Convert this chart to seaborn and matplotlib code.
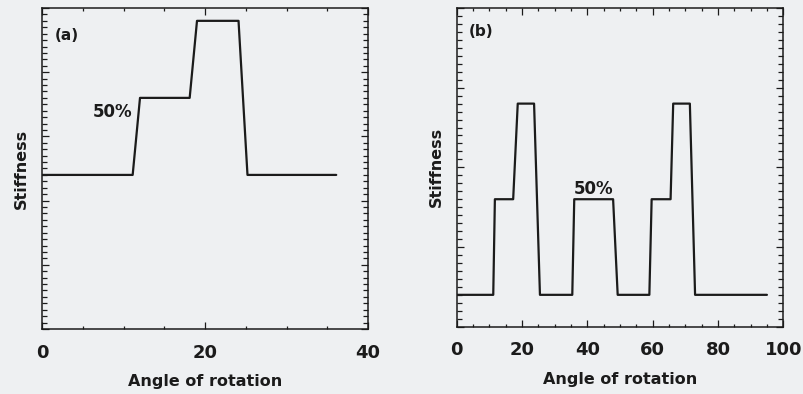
import matplotlib
matplotlib.use("Agg")
import matplotlib.pyplot as plt
import seaborn as sns
import pandas as pd
from matplotlib.ticker import MultipleLocator, NullFormatter

# Stiffness profile for a single stiffened sector, panel (a)
angle_a = [0, 11.1, 12.0, 18.1, 19.0, 24.1, 25.2, 36.1]
stiffness_a = [2.4, 2.4, 3.6, 3.6, 4.8, 4.8, 2.4, 2.4]

# Stiffness profile with three stiffened sectors, panel (b)
angle_b = [0, 11.2, 11.7, 17.3, 18.7, 23.7, 25.5, 35.4, 36.0, 47.9,
           49.3, 59.0, 59.7, 65.5, 66.3, 71.4, 73.0, 95.0]
stiffness_b = [0.4, 0.4, 1.6, 1.6, 2.8, 2.8, 0.4, 0.4, 1.6, 1.6,
               0.4, 0.4, 1.6, 1.6, 2.8, 2.8, 0.4, 0.4]

panel_labels = ["(a)", "(b)"]
step_label = "50%"
x_label = "Angle of rotation"
y_label = "Stiffness"

sns.set_theme(style="ticks")
plt.rcParams["font.family"] = ["DejaVu Sans"]
plt.rcParams["font.weight"] = "bold"

bg = "#eef0f2"
ink = "#1b1b1b"

fig = plt.figure(figsize=(8.04, 3.94), dpi=100, facecolor=bg)
ax_a = fig.add_axes([0.0526, 0.165, 0.4051, 0.8147])
ax_b = fig.add_axes([0.568, 0.1708, 0.4062, 0.8089])

panels = [
    (ax_a, angle_a, stiffness_a, (0, 40), (0, 5), 20, (1.56, 4.57), (8.66, 3.38)),
    (ax_b, angle_b, stiffness_b, (0, 100), (0, 4), 20, (3.55, 3.70), (42.0, 1.73)),
]

for i, (ax, xs, ys, xlim, ylim, xmajor, lab_pos, pct_pos) in enumerate(panels):
    df = pd.DataFrame({"angle": xs, "stiffness": ys})
    sns.lineplot(data=df, x="angle", y="stiffness", ax=ax, sort=False,
                 estimator=None, color=ink, linewidth=1.6)
    ax.set_facecolor(bg)
    ax.set_xlim(*xlim)
    ax.set_ylim(*ylim)
    ax.xaxis.set_major_locator(MultipleLocator(xmajor))
    ax.xaxis.set_minor_locator(MultipleLocator(5))
    ax.yaxis.set_major_locator(MultipleLocator(1))
    ax.yaxis.set_minor_locator(MultipleLocator(0.1))
    ax.yaxis.set_major_formatter(NullFormatter())
    ax.tick_params(axis="both", which="both", direction="in",
                   top=True, right=True, color=ink, width=0.9)
    ax.tick_params(axis="x", which="major", length=5, pad=10.5,
                   labelsize=13, labelcolor=ink)
    ax.tick_params(axis="x", which="minor", length=2.5)
    ax.tick_params(axis="y", which="major", length=5)
    ax.tick_params(axis="y", which="minor", length=3.5)
    for s in ax.spines.values():
        s.set_linewidth(1.1)
        s.set_color(ink)
    ax.set_xlabel(x_label, fontsize=11.5, fontweight="bold", color=ink, labelpad=9)
    ax.set_ylabel(y_label, fontsize=11.5, fontweight="bold", color=ink, labelpad=6)
    ax.text(lab_pos[0], lab_pos[1], panel_labels[i], fontsize=11,
            fontweight="bold", color=ink, ha="left", va="center")
    ax.text(pct_pos[0], pct_pos[1], step_label, fontsize=12,
            fontweight="bold", color=ink, ha="center", va="center")

fig.savefig("out.png", dpi=100, facecolor=bg)
